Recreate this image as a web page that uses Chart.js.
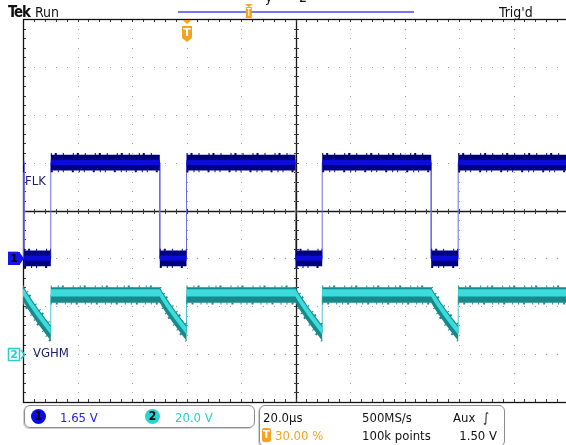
<!DOCTYPE html>
<html>
<head>
<meta charset="utf-8">
<title>FLK / VGHM</title>
<script src="https://cdn.jsdelivr.net/npm/chart.js@4.4.1/dist/chart.umd.min.js"></script>
<style>
  html, body { margin: 0; padding: 0; background: #fff; overflow: hidden; }
  #wrap { position: relative; width: 566px; height: 445px; overflow: hidden;
          font-family: 'DejaVu Sans Condensed', 'DejaVu Sans', sans-serif; font-stretch: condensed;
          font-size: 13px; color: #111; }
  canvas { position: absolute; left: 0; top: 0; }
  .t { position: absolute; white-space: nowrap; line-height: 1; }
  .box { position: absolute; border: 1px solid #8c8c8c; border-radius: 6px; box-shadow: -1px 1px 0 #d0d0d0; }
  .chip { position: absolute; width: 15px; height: 15px; border-radius: 50%; text-align: center;
          line-height: 15px; font-weight: bold; font-size: 12px; color: #000; }
</style>
</head>
<body>
<div id="wrap">
  <canvas id="scope" width="575" height="445"></canvas>

  <div class="t" style="left:265px; top:-10px; font-size:14px;">y</div>
  <div class="t" style="left:299px; top:-10px; font-size:14px;">2</div>
  <div class="t" style="left:8px; top:5px; font-size:15px; font-weight:bold; letter-spacing:-1.2px;">Tek</div>
  <div class="t" style="left:35px; top:5px; font-size:14px;">Run</div>
  <div class="t" style="left:499px; top:5px; font-size:14px;">Trig'd</div>

  <div class="t" style="left:25px; top:174px; color:#1c1c66;">FLK</div>
  <div class="t" style="left:33px; top:346px; color:#1c1c66;">VGHM</div>

  <div class="box" style="left:24px; top:405px; width:229px; height:21px;"></div>
  <div class="chip" style="left:31px; top:409px; background:#0a0ae6;">1</div>
  <div class="t" style="left:60px; top:411px; color:#2424d8;">1.65 V</div>
  <div class="chip" style="left:145px; top:409px; background:#2ad2d2;">2</div>
  <div class="t" style="left:175px; top:411px; color:#2ccccc;">20.0 V</div>

  <div class="box" style="left:259px; top:405px; width:244px; height:40px;"></div>
  <div class="t" style="left:263px; top:411px;">20.0µs</div>
  <div class="t" style="left:362px; top:411px;">500MS/s</div>
  <div class="t" style="left:453px; top:411px;">Aux &nbsp;∫</div>
  <div class="t" style="left:262px; top:428px; width:9px; height:14px; background:#f5a31c; border-radius:2px; color:#fff; font-size:11px; font-weight:bold; text-align:center; line-height:14px;">T</div>
  <div class="t" style="left:275px; top:429px; color:#f5a31c;">30.00 %</div>
  <div class="t" style="left:362px; top:429px;">100k points</div>
  <div class="t" style="right:69px; top:429px;">1.50 V</div>
</div>

<script>
// scope settings
var timePerDiv = 20;          // us / div, 10 div across
var triggerPos = 60;          // us, 30 % of the record
var ch1VoltsPerDiv = 1.65;
var ch2VoltsPerDiv = 20.0;
var ch1OffsetDiv = -1;        // ground marker "1"
var ch2OffsetDiv = -3;        // ground marker "2"

// FLK, channel 1 (V)
var flkTime  = [0, 0.4, 0.4, 10.2, 10.2, 50.2, 50.2, 60, 60, 100, 100, 109.8, 109.8, 149.8, 149.8, 159.7, 159.7, 200];
var flkVolts = [3.3, 3.3, 0, 0, 3.3, 3.3, 0, 0, 3.3, 3.3, 0, 0, 3.3, 3.3, 0, 0, 3.3, 3.3];

// VGHM, channel 2 (V)
var vghmTime  = [0, 0.4, 1.4, 2.9, 5.4, 7.9, 10.2, 10.2,
                 50.2, 51.2, 52.7, 55.2, 57.7, 60, 60,
                 100, 101, 102.5, 105, 107.5, 109.8, 109.8,
                 149.8, 150.8, 152.3, 154.8, 157.3, 159.7, 159.7, 200];
var vghmVolts = [24.7, 24.7, 22.7, 20.1, 16.0, 12.2, 8.8, 24.7,
                 24.7, 22.7, 20.1, 16.0, 12.2, 8.8, 24.7,
                 24.7, 22.7, 20.1, 16.0, 12.2, 8.8, 24.7,
                 24.7, 22.7, 20.1, 16.0, 12.2, 8.8, 24.7, 24.7];

// build a trace shifted by a fixed amount (persistence band edges)
function shifted(times, volts, d) {
	var pts = [];
	for (var i = 0; i < times.length; i++) {
		pts.push({x: times[i], y: volts[i] + d});
	}
	return pts;
}

function bandEdge(times, volts, d, axis, fillColor, order) {
	return {
		data: shifted(times, volts, d),
		yAxisID: axis,
		borderColor: 'transparent',
		borderWidth: 1,
		backgroundColor: fillColor || 'transparent',
		fill: fillColor ? '+1' : false,
		pointRadius: 0,
		tension: 0,
		order: order
	};
}

// noisy fringe along a band edge: dashed, skipped on the vertical edges
function fringe(times, volts, d, axis, color, dash) {
	return {
		data: shifted(times, volts, d),
		yAxisID: axis,
		borderColor: color,
		borderWidth: 2,
		borderDash: dash,
		segment: {
			borderColor: function(c) {
				return Math.abs(c.p0.parsed.x - c.p1.parsed.x) < 0.01 ? 'transparent' : color;
			}
		},
		fill: false,
		pointRadius: 0,
		tension: 0,
		order: 2
	};
}

var orange = '#f5a31c';

// oscilloscope graticule, under the traces
var graticule = {
	id: 'graticule',
	beforeDatasetsDraw: function(chart) {
		var ctx = chart.ctx, a = chart.chartArea;
		var xs = chart.scales.x, ds = chart.scales.div;
		var i, j, px, py;

		ctx.save();
		// dotted lines at every major division
		ctx.fillStyle = '#9a9a9a';
		for (i = 1; i < 10; i++) {
			if (i == 5) continue;
			px = Math.round(xs.getPixelForValue(i * timePerDiv));
			for (j = 1; j < 40; j++) {
				py = Math.round(ds.getPixelForValue(-4 + j * 0.2));
				ctx.fillRect(px, py, 1, 1);
			}
		}
		for (i = -3; i <= 3; i++) {
			if (i == 0) continue;
			py = Math.round(ds.getPixelForValue(i));
			for (j = 1; j < 50; j++) {
				px = Math.round(xs.getPixelForValue(j * timePerDiv / 5));
				ctx.fillRect(px, py, 1, 1);
			}
		}

		// centre cross
		var cx = Math.round(xs.getPixelForValue(5 * timePerDiv)) + 0.5;
		var cy = Math.round(ds.getPixelForValue(0)) + 0.5;
		ctx.strokeStyle = '#1a1a1a';
		ctx.lineWidth = 1.3;
		ctx.beginPath();
		ctx.moveTo(a.left, cy); ctx.lineTo(a.right, cy);
		ctx.moveTo(cx, a.top); ctx.lineTo(cx, a.bottom);
		ctx.stroke();

		// minor ticks on the cross and the frame
		ctx.strokeStyle = '#3a3a3a';
		ctx.lineWidth = 1;
		ctx.beginPath();
		for (j = 1; j < 50; j++) {
			px = Math.round(xs.getPixelForValue(j * timePerDiv / 5)) + 0.5;
			ctx.moveTo(px, cy - 2.5); ctx.lineTo(px, cy + 2.5);
			ctx.moveTo(px, a.top); ctx.lineTo(px, a.top + 3);
			ctx.moveTo(px, a.bottom); ctx.lineTo(px, a.bottom - 3);
		}
		for (j = 1; j < 40; j++) {
			py = Math.round(ds.getPixelForValue(-4 + j * 0.2)) + 0.5;
			ctx.moveTo(cx - 2.5, py); ctx.lineTo(cx + 2.5, py);
			ctx.moveTo(a.left, py); ctx.lineTo(a.left + 3, py);
		}
		ctx.stroke();

		// frame
		ctx.strokeStyle = '#111';
		ctx.lineWidth = 1.3;
		ctx.strokeRect(Math.round(a.left) + 0.5, Math.round(a.top) + 0.5,
			Math.round(a.right - a.left), Math.round(a.bottom - a.top));
		ctx.restore();
	}
};

// channel / trigger markers and record bar, over the traces
var markers = {
	id: 'markers',
	afterDatasetsDraw: function(chart) {
		var ctx = chart.ctx, a = chart.chartArea;
		var xs = chart.scales.x;
		var g1 = Math.round(chart.scales.y1.getPixelForValue(0));
		var g2 = Math.round(chart.scales.y2.getPixelForValue(0));

		ctx.save();
		ctx.textAlign = 'center';
		ctx.textBaseline = 'middle';

		// channel 1 ground marker
		ctx.fillStyle = '#1414f0';
		ctx.fillRect(8, g1 - 6, 12, 13);
		ctx.beginPath();
		ctx.moveTo(20, g1 - 5); ctx.lineTo(24, g1 + 0.5); ctx.lineTo(20, g1 + 6);
		ctx.fill();
		ctx.fillStyle = '#d6bf45';
		ctx.fillRect(8, g1 - 7, 10, 1);
		ctx.fillStyle = '#000';
		ctx.font = 'bold 11px "DejaVu Sans"';
		ctx.fillText('1', 14, g1 + 1);

		// channel 2 ground marker
		ctx.fillStyle = '#fff';
		ctx.fillRect(8, g2 - 6, 12, 13);
		ctx.strokeStyle = '#2ccccc';
		ctx.lineWidth = 1.5;
		ctx.strokeRect(8.5, g2 - 5.5, 11, 12);
		ctx.beginPath();
		ctx.moveTo(21, g2 - 4); ctx.lineTo(24.5, g2 + 0.5); ctx.lineTo(21, g2 + 5);
		ctx.stroke();
		ctx.fillStyle = '#2ccccc';
		ctx.fillText('2', 14, g2 + 1);

		// record bar with trigger point
		var recLeft = 178, recRight = 414;
		ctx.strokeStyle = '#7878f2';
		ctx.lineWidth = 2;
		ctx.beginPath();
		ctx.moveTo(recLeft, 12); ctx.lineTo(recRight, 12);
		ctx.stroke();
		var rx = recLeft + (recRight - recLeft) * triggerPos / (10 * timePerDiv);
		ctx.fillStyle = orange;
		ctx.beginPath();
		ctx.moveTo(rx - 4, 4); ctx.lineTo(rx + 4, 4); ctx.lineTo(rx, 7);
		ctx.fill();
		ctx.fillRect(rx - 3, 7, 6, 11);
		ctx.fillStyle = '#fff';
		ctx.fillRect(rx - 2, 8, 4, 1);
		ctx.fillRect(rx - 0.5, 8, 1, 8);

		// trigger position marker under the top frame
		var tx = Math.round(xs.getPixelForValue(triggerPos));
		var ty = a.top;
		ctx.fillStyle = orange;
		ctx.beginPath();
		ctx.moveTo(tx - 4.5, ty + 1); ctx.lineTo(tx + 4.5, ty + 1); ctx.lineTo(tx, ty + 5);
		ctx.fill();
		ctx.beginPath();
		ctx.moveTo(tx - 5, ty + 7);
		ctx.lineTo(tx + 5, ty + 7);
		ctx.lineTo(tx + 5, ty + 19);
		ctx.lineTo(tx, ty + 23);
		ctx.lineTo(tx - 5, ty + 19);
		ctx.closePath();
		ctx.fill();
		ctx.fillStyle = '#fff';
		ctx.font = 'bold 11px "DejaVu Sans"';
		ctx.fillText('T', tx, ty + 14);
		ctx.restore();
	}
};

var navy = '#00007e';
var teal = '#17898c';

var myScope = new Chart(document.getElementById('scope'), {
	type: 'line',
	data: {
		datasets: [
			bandEdge(flkTime, flkVolts, 0.1, 'y1', '#0c0cd8', 1),
			bandEdge(flkTime, flkVolts, -0.08, 'y1', null, 1),
			bandEdge(flkTime, flkVolts, 0.27, 'y1', navy, 2),
			bandEdge(flkTime, flkVolts, -0.27, 'y1', null, 2),
			fringe(flkTime, flkVolts, 0.3, 'y1', navy, [1, 3, 2, 6, 1, 9]),
			fringe(flkTime, flkVolts, -0.3, 'y1', navy, [2, 5, 1, 4, 1, 8]),
			{
				label: 'FLK',
				data: shifted(flkTime, flkVolts, 0),
				yAxisID: 'y1',
				borderColor: '#6c6ce6',
				borderWidth: 1,
				pointRadius: 0,
				tension: 0,
				fill: false,
				order: 3
			},
			bandEdge(vghmTime, vghmVolts, 2.4, 'y2', '#3cdcdc', 1),
			bandEdge(vghmTime, vghmVolts, -0.6, 'y2', null, 1),
			bandEdge(vghmTime, vghmVolts, 3.2, 'y2', teal, 2),
			bandEdge(vghmTime, vghmVolts, -3.2, 'y2', null, 2),
			fringe(vghmTime, vghmVolts, 3.6, 'y2', teal, [1, 6, 1, 3, 2, 9]),
			fringe(vghmTime, vghmVolts, -3.6, 'y2', teal, [1, 4, 2, 7, 1, 5]),
			{
				label: 'VGHM',
				data: shifted(vghmTime, vghmVolts, 0),
				yAxisID: 'y2',
				borderColor: '#4cc8c8',
				borderWidth: 1,
				pointRadius: 0,
				tension: 0,
				fill: false,
				order: 3
			}
		]
	},
	options: {
		responsive: false,
		maintainAspectRatio: false,
		animation: false,
		events: [],
		layout: { padding: { left: 23, top: 19, right: 7, bottom: 43 } },
		plugins: {
			legend: { display: false },
			tooltip: { enabled: false }
		},
		scales: {
			x: { type: 'linear', min: 0, max: 10 * timePerDiv, display: false },
			div: { type: 'linear', axis: 'y', min: -4, max: 4, display: false },
			y1: { type: 'linear', axis: 'y', display: false,
				min: (-4 - ch1OffsetDiv) * ch1VoltsPerDiv, max: (4 - ch1OffsetDiv) * ch1VoltsPerDiv },
			y2: { type: 'linear', axis: 'y', display: false,
				min: (-4 - ch2OffsetDiv) * ch2VoltsPerDiv, max: (4 - ch2OffsetDiv) * ch2VoltsPerDiv }
		}
	},
	plugins: [graticule, markers]
});
</script>
</body>
</html>
